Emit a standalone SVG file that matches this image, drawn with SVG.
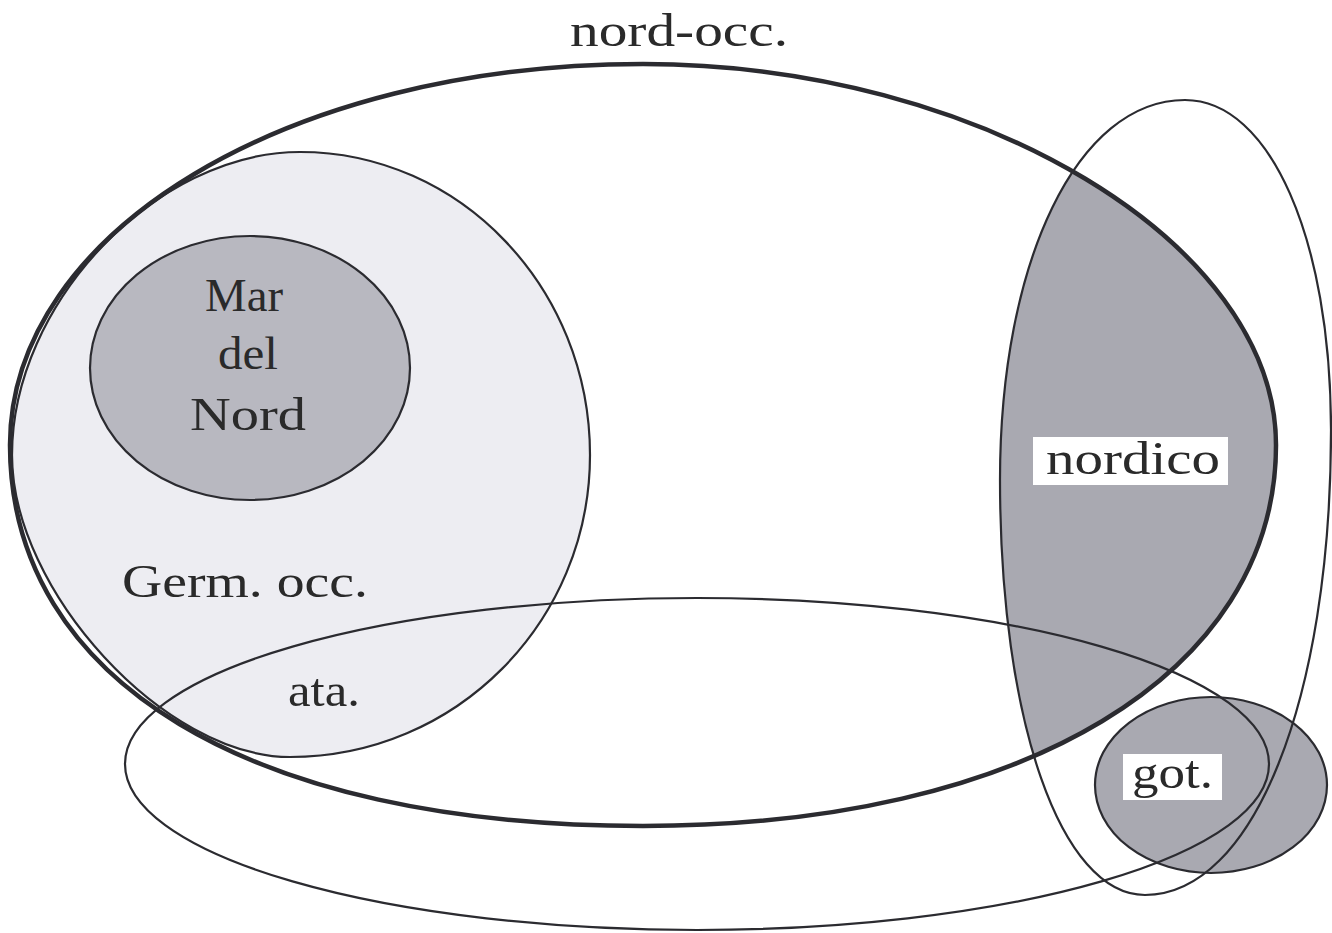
<svg xmlns="http://www.w3.org/2000/svg" width="1332" height="933" viewBox="0 0 1332 933">
<style>
.lbl{font-family:"Liberation Serif","DejaVu Serif",serif;font-size:46px;fill:#2a2a2a}
.ln{fill:none;stroke:#2b2b30;stroke-width:2.2}
.bold{fill:none;stroke:#2b2b30;stroke-width:4.5}
.box{fill:#ffffff}
.shade{fill:#a9a9b1}
</style>
<defs>
<path id="nordOccShape" d="M 1276 445 C 1276 673.6 1023 826 643 826 C 250.5 826 10 681 10 445 C 10 231.6 288.5 64 643 64 C 978.5 64 1276 243 1276 445 Z"/>
<path id="germShape" d="M 590 455 C 590 622 456 757 290 757 C 165 757 12 591 12 455 C 12 303.5 156 152 300 152 C 460 152 590 288 590 455 Z"/>
<path id="tallShape" d="M 1000 480 C 1000 260 1078 100 1185 100 C 1270 100 1331 239 1331 430 C 1331 700 1253 895 1145 895 C 1061 895 1000 721 1000 480 Z"/>
<clipPath id="clipNO"><use href="#nordOccShape"/></clipPath>
</defs>
<rect width="1332" height="933" fill="#ffffff"/>
<g id="germ-occ-fill"><use href="#germShape" fill="#ededf2"/></g>
<g id="mar-del-nord-fill"><ellipse cx="250" cy="368" rx="160" ry="132" fill="#b8b8c0"/></g>
<g id="nordico-fill" clip-path="url(#clipNO)"><use href="#tallShape" class="shade"/></g>
<g id="got-fill"><ellipse cx="1211" cy="785" rx="116" ry="88" class="shade"/></g>
<g id="connectors">
<use href="#nordOccShape" class="bold"/>
<use href="#germShape" class="ln"/>
<ellipse class="ln" cx="250" cy="368" rx="160" ry="132"/>
<use href="#tallShape" class="ln"/>
<ellipse class="ln" cx="697" cy="764" rx="572" ry="166"/>
<ellipse class="ln" cx="1211" cy="785" rx="116" ry="88"/>
</g>
<g id="nord-occ"><text class="lbl" x="570" y="46" textLength="218" lengthAdjust="spacingAndGlyphs">nord-occ.</text></g>
<g id="mar-del-nord">
<text class="lbl" x="205" y="311" textLength="78" lengthAdjust="spacingAndGlyphs">Mar</text>
<text class="lbl" x="218" y="369" textLength="60" lengthAdjust="spacingAndGlyphs">del</text>
<text class="lbl" x="190" y="430" textLength="116" lengthAdjust="spacingAndGlyphs">Nord</text>
</g>
<g id="germ-occ"><text class="lbl" x="122" y="597" textLength="246" lengthAdjust="spacingAndGlyphs">Germ. occ.</text></g>
<g id="ata"><text class="lbl" x="288" y="706" textLength="72" lengthAdjust="spacingAndGlyphs">ata.</text></g>
<g id="nordico">
<rect class="box" x="1033" y="437" width="195" height="48"/>
<text class="lbl" x="1046" y="474" textLength="174" lengthAdjust="spacingAndGlyphs">nordico</text>
</g>
<g id="got">
<rect class="box" x="1123" y="754" width="99" height="46"/>
<text class="lbl" x="1132" y="788" textLength="81" lengthAdjust="spacingAndGlyphs">got.</text>
</g>
</svg>
